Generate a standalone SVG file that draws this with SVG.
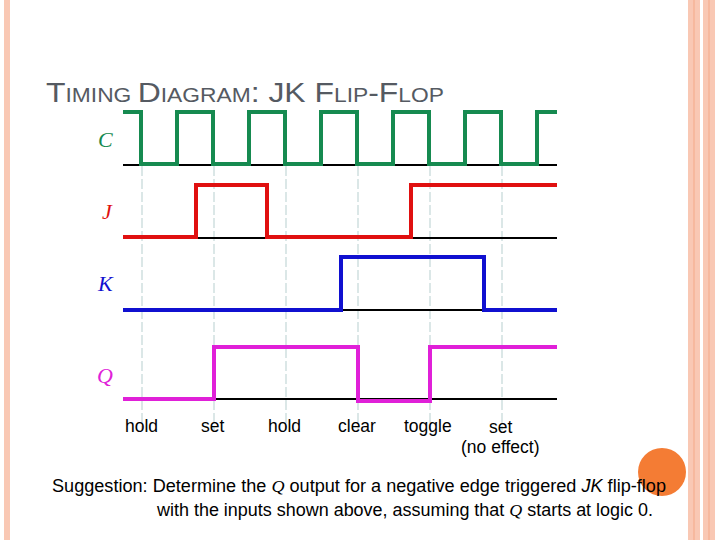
<svg xmlns="http://www.w3.org/2000/svg" width="720" height="540" viewBox="0 0 720 540">
<style>
.w{fill:none;stroke-width:4;stroke-linejoin:miter}
.b{stroke:#000;stroke-width:2}
.g{stroke:#cfe0e0;stroke-width:1.5;stroke-dasharray:10 3}
.l{font-family:"Liberation Serif",serif;font-style:italic;font-size:22px}
.t{font-family:"Liberation Sans",Arial,sans-serif;font-size:17.5px;fill:#000}
.s{font-size:17.5px}
</style>
<rect width="720" height="540" fill="#fff"/>
<rect x="4" y="0" width="6" height="540" fill="#f9c8b4"/>
<rect x="688" y="0" width="12" height="540" fill="#f9c8b4"/>
<rect x="703" y="0" width="12" height="540" fill="#f9c8b4"/>
<line x1="694" y1="0" x2="694" y2="540" stroke="#f4a988" stroke-width="1"/>
<line x1="709" y1="0" x2="709" y2="540" stroke="#f4a988" stroke-width="1"/>
<circle cx="662" cy="472" r="24" fill="#f47c34"/>
<text x="46" y="102" font-family="Liberation Sans,Arial,sans-serif" fill="#555a62" textLength="398" lengthAdjust="spacingAndGlyphs"><tspan font-size="28">T</tspan><tspan font-size="20">IMING </tspan><tspan font-size="28">D</tspan><tspan font-size="20">IAGRAM</tspan><tspan font-size="28">:  JK F</tspan><tspan font-size="20">LIP</tspan><tspan font-size="28">-F</tspan><tspan font-size="20">LOP</tspan></text>
<g id="grid">
<line class="g" x1="142" y1="166" x2="142" y2="430"/>
<line class="g" x1="214" y1="166" x2="214" y2="430"/>
<line class="g" x1="286" y1="166" x2="286" y2="430"/>
<line class="g" x1="358" y1="166" x2="358" y2="430"/>
<line class="g" x1="430" y1="166" x2="430" y2="430"/>
<line class="g" x1="502" y1="166" x2="502" y2="430"/>
<line class="b" x1="123" y1="165" x2="557" y2="165"/>
<line class="b" x1="123" y1="238" x2="557" y2="238"/>
<line class="b" x1="123" y1="310" x2="557" y2="310"/>
<line class="b" x1="123" y1="399" x2="557" y2="399"/>
</g>
<g id="C"><text class="l" x="98" y="147" fill="#168a50">C</text>
<path class="w" stroke="#168a50" d="M123,112H141V164H177V112H213V164H249V112H285V164H321V112H357V164H393V112H429V164H465V112H501V164H537V112H557"/></g>
<g id="J"><text class="l" x="102" y="219" fill="#e01010">J</text>
<path class="w" stroke="#e01010" d="M123,237H196V185H267V237H411V185H557"/></g>
<g id="K"><text class="l" x="98" y="291" fill="#1010d0">K</text>
<path class="w" stroke="#1010d0" d="M123,310H341V257H484V310H557"/></g>
<g id="Q"><text class="l" x="97" y="383" fill="#e020d8">Q</text>
<path class="w" stroke="#e020d8" d="M123,399H214V347H358V401H430V347H557"/></g>
<g id="labels" class="t">
<text x="125" y="432">hold</text>
<text x="201" y="432">set</text>
<text x="268" y="432">hold</text>
<text x="338" y="432">clear</text>
<text x="404" y="432">toggle</text>
<text x="489" y="433">set</text>
<text x="461" y="453">(no effect)</text>
<text x="52" y="492" textLength="614" lengthAdjust="spacingAndGlyphs">Suggestion:  Determine the <tspan font-family="Liberation Serif,serif" font-style="italic">Q</tspan> output for a negative edge triggered <tspan font-style="italic">JK</tspan> flip-flop</text>
<text x="157" y="516" textLength="496" lengthAdjust="spacingAndGlyphs">with the inputs shown above, assuming that <tspan font-family="Liberation Serif,serif" font-style="italic">Q</tspan> starts at logic 0.</text>
</g>
</svg>
